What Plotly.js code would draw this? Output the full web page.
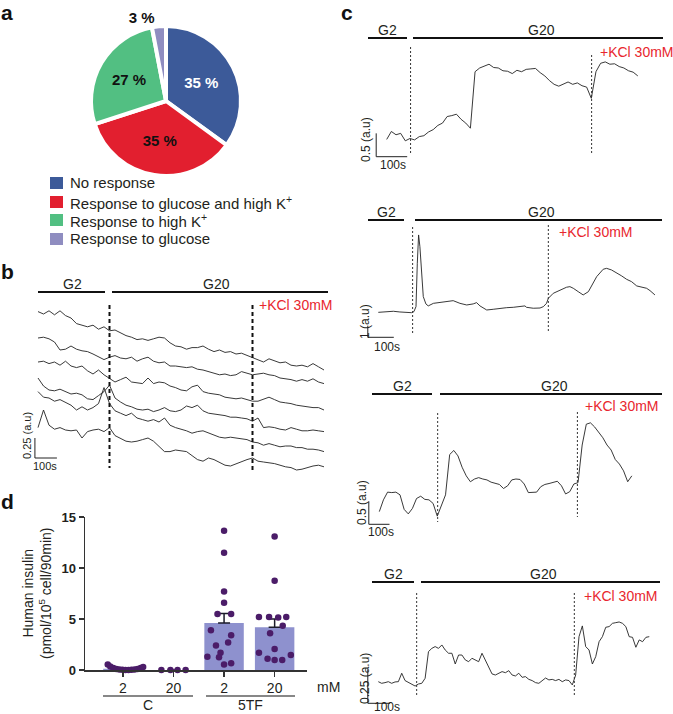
<!DOCTYPE html>
<html>
<head>
<meta charset="utf-8">
<script src="https://cdn.plot.ly/plotly-3.0.1.min.js"></script>
<style>
  html, body { margin: 0; padding: 0; background: #fff; }
  #fig { width: 673px; height: 714px; }
</style>
</head>
<body>
<div id="fig"></div>
<script>
// ---------- a: fraction of cells per response type (%) ----------
const pieLabels = ['No response', 'Response to glucose and high K<sup>+</sup>', 'Response to high K<sup>+</sup>', 'Response to glucose'];
const piePercents = [35, 35, 27, 3];
const pieColors = ['#3c5a99', '#e21f2f', '#52bf82', '#8f8dc0'];

// ---------- b: six cells, signal in a.u., one sample every 25 s ----------
const bStep = 25;
const bTraces = [
  [1.98,1.95,1.99,1.94,1.99,1.93,1.90,1.83,1.81,1.79,1.81,1.76,1.79,1.74,1.75,1.71,1.68,1.66,1.63,1.64,1.62,1.64,1.66,1.65,1.59,1.55,1.54,1.51,1.53,1.53,1.55,1.51,1.48,1.50,1.47,1.48,1.45,1.46,1.43,1.41,1.38,1.35,1.39,1.36,1.34,1.35,1.31,1.30,1.31,1.29,1.33,1.29,1.25],
  [1.65,1.66,1.64,1.60,1.50,1.51,1.55,1.51,1.49,1.48,1.45,1.41,1.38,1.41,1.43,1.40,1.39,1.41,1.36,1.39,1.41,1.36,1.34,1.35,1.30,1.30,1.29,1.28,1.29,1.26,1.25,1.23,1.21,1.19,1.20,1.18,1.19,1.23,1.21,1.19,1.20,1.21,1.19,1.18,1.15,1.14,1.13,1.11,1.13,1.11,1.14,1.10,1.08],
  [1.35,1.36,1.33,1.35,1.31,1.36,1.30,1.28,1.30,1.24,1.20,1.25,1.19,1.14,1.10,1.13,1.16,1.10,1.09,1.08,1.15,1.08,1.10,1.09,1.05,1.03,1.00,0.99,1.04,1.06,0.98,0.96,0.95,0.94,0.91,0.90,0.89,0.90,0.88,0.86,0.86,0.89,0.91,0.88,0.85,0.84,0.83,0.81,0.80,0.79,0.78,0.78,0.75],
  [1.15,1.05,1.00,0.99,1.01,0.98,0.95,0.96,0.94,0.89,0.88,0.93,0.98,1.06,0.90,0.85,0.81,0.79,0.76,0.75,0.76,0.73,0.75,0.78,0.74,0.73,0.75,0.80,0.78,0.81,0.74,0.71,0.70,0.69,0.68,0.66,0.66,0.65,0.64,0.61,0.65,0.53,0.54,0.53,0.51,0.50,0.53,0.51,0.49,0.49,0.50,0.49,0.48],
  [0.98,0.91,0.90,0.86,0.88,0.85,0.81,0.75,0.79,0.75,0.78,0.83,1.03,0.83,0.74,0.71,0.68,0.71,0.65,0.63,0.61,0.63,0.60,0.65,0.56,0.53,0.51,0.49,0.46,0.48,0.49,0.46,0.43,0.41,0.40,0.41,0.40,0.39,0.38,0.35,0.34,0.31,0.33,0.31,0.29,0.30,0.30,0.28,0.28,0.26,0.26,0.25,0.23],
  [0.53,0.75,0.56,0.51,0.53,0.50,0.49,0.50,0.40,0.48,0.50,0.51,0.48,0.53,0.43,0.40,0.36,0.35,0.36,0.38,0.40,0.36,0.30,0.23,0.23,0.25,0.24,0.23,0.18,0.13,0.11,0.15,0.13,0.10,0.06,0.05,0.08,0.10,0.13,0.15,0.11,0.10,0.09,0.08,0.06,0.04,0.03,0.00,0.01,0.03,0.05,0.06,0.04]
];
const bG20Time = 325;   // s, switch to 20 mM glucose
const bKclTime = 975;   // s, KCl added

// ---------- c: four single cells (a.u.) ----------
const c1Step = 15;
const c1Sig = [0.37,0.54,0.47,0.50,0.34,0.39,0.36,0.43,0.45,0.53,0.58,0.67,0.72,0.86,0.88,0.91,0.80,0.72,0.61,1.82,1.90,1.94,1.98,1.91,1.90,1.84,1.83,1.78,1.85,1.82,1.87,1.88,1.89,1.80,1.73,1.63,1.55,1.51,1.56,1.60,1.55,1.58,1.52,1.49,1.25,1.82,2.00,2.03,1.98,1.99,1.93,1.90,1.84,1.81,1.73];
const c2Time = [0,32,58,83,109,128,137,145,150,155,160,167,173,183,192,212,237,263,288,314,340,365,378,391,417,442,468,494,519,545,564,570,596,622,635,647,654,673,699,724,737,750,769,788,808,827,840,865,878,897,917,936,955,974,994,1013,1032,1045,1064];
const c2Sig = [2.14,2.20,2.23,2.17,2.14,2.11,2.20,2.63,6.34,8.77,7.77,4.91,3.49,2.86,2.69,2.91,2.97,3.06,3.14,2.91,2.77,2.86,2.97,2.69,2.34,2.40,2.49,2.54,2.57,2.63,2.69,2.57,2.49,2.51,2.63,2.91,3.34,3.77,4.06,4.29,4.34,4.20,3.91,3.63,3.91,4.63,5.20,5.83,5.91,5.77,5.54,5.26,4.97,4.77,4.40,4.29,4.20,4.00,3.63];
const c3Step = 20;
const c3Sig = [0.28,0.54,0.71,0.70,0.71,0.65,0.33,0.23,0.35,0.57,0.62,0.55,0.54,0.46,0.18,0.42,0.65,1.54,1.63,1.51,1.26,1.07,0.94,1.00,1.03,1.00,0.98,0.93,0.91,0.88,0.79,0.85,0.98,1.00,0.99,0.89,0.70,0.70,0.71,0.83,0.88,0.90,0.92,0.95,0.85,0.67,0.72,0.89,0.92,1.75,2.21,2.24,2.15,2.02,1.91,1.75,1.64,1.43,1.33,1.18,0.94,1.07];
const c4Step = 15;
const c4Sig = [0.159,0.147,0.152,0.159,0.147,0.157,0.159,0.221,0.167,0.154,0.145,0.127,0.142,0.147,0.184,0.380,0.404,0.417,0.404,0.429,0.392,0.368,0.368,0.289,0.355,0.355,0.319,0.306,0.331,0.319,0.306,0.368,0.314,0.257,0.216,0.208,0.221,0.233,0.225,0.240,0.208,0.201,0.221,0.191,0.196,0.176,0.167,0.152,0.147,0.167,0.186,0.172,0.176,0.167,0.176,0.159,0.172,0.167,0.135,0.208,0.490,0.569,0.417,0.392,0.289,0.343,0.453,0.490,0.559,0.564,0.588,0.593,0.598,0.588,0.564,0.490,0.485,0.412,0.466,0.453,0.485,0.490];
const cG20Time = [77, 132, 282, 172];
const cKclTime = [661, 654, 957, 879];
const cScaleAU = [0.5, 1, 0.5, 0.25];
const cScaleLabels = ['0.5 (a.u)', '1 (a.u)', '0.5 (a.u)', '0.25 (a.u)'];

// ---------- d: insulin secretion ----------
const dCats = ['2', '20', '2', '20'];
const dGroups = ['C', '5TF'];
const dMeans = [0.13, 0, 4.6, 4.2];
const dSem = [0.05, 0, 0.95, 0.8];
const dDotsC2 = [0.55,0.35,0.2,0.1,0.05,0.02,0,0,0.02,0.05,0.1,0.2,0.3];
const dJitC2 = [-0.30,-0.25,-0.19,-0.13,-0.07,-0.01,0.05,0.11,0.17,0.23,0.29,0.35,0.40];
const dDotsC20 = [0,0,0,0];
const dJitC20 = [-0.24,-0.06,0.08,0.24];
const dDots5TF2 = [13.66,11.5,7.7,6.6,5.5,5.5,3.9,3.4,2.4,2.7,1.7,1.3,1.25,0.55,0.65];
const dJit5TF2 = [0,0,0,0,-0.13,0.14,-0.26,0.14,-0.16,0.08,-0.07,-0.33,-0.10,0,0.14];
const dDots5TF20 = [13.1,8.75,5.2,5.2,5.15,5.2,4.35,3.6,2.06,1.7,1.47,1.1,0.98,0.98];
const dJit5TF20 = [0,0,-0.31,-0.11,0.07,0.23,0.16,-0.09,0,-0.31,0.32,-0.14,0,0.15];

// ---------- helpers ----------
const W = 673, H = 714;
const px = x => x / W;
const py = y => 1 - y / H;
const FONT = 'Liberation Sans, Arial, sans-serif';
const INK = '#231f20';
const RED = '#e8262e';

function txt(x, y, text, extra) {
  return Object.assign({ xref: 'paper', yref: 'paper', x: px(x), y: py(y), text: text, showarrow: false,
    xanchor: 'center', yanchor: 'middle', font: { size: 14, color: INK, family: FONT } }, extra || {});
}
function seg(x0, y0, x1, y1, w) {
  return { type: 'line', xref: 'paper', yref: 'paper', x0: px(x0), y0: py(y0), x1: px(x1), y1: py(y1),
    line: { color: '#111', width: w || 2 } };
}
// trace panel axes: box in px, time origin px, px per s, value origin px, px per a.u.
function traceAxes(box, t0, ppS, v0, ppA) {
  return [
    { domain: [px(box.l), px(box.r)], range: [(box.l - t0) / ppS, (box.r - t0) / ppS], visible: false, fixedrange: true },
    { domain: [py(box.b), py(box.t)], range: [(v0 - box.b) / ppA, (v0 - box.t) / ppA], visible: false, fixedrange: true }
  ];
}
const times = (n, step) => Array.from({ length: n }, (_, i) => i * step);

const data = [];
const shapes = [];
const annotations = [];

// ---------- panel a ----------
data.push({
  type: 'pie', values: piePercents, labels: pieLabels, sort: false, direction: 'clockwise', rotation: 0,
  marker: { colors: pieColors, line: { color: '#fff', width: 4 } },
  texttemplate: '<b>%{value} %</b>', textposition: ['inside', 'inside', 'inside', 'outside'],
  insidetextorientation: 'horizontal',
  insidetextfont: { color: ['#fff', '#111', '#111', '#111'], size: 15, family: FONT },
  outsidetextfont: { color: '#111', size: 15, family: FONT },
  domain: { x: [px(91), px(241)], y: [py(176), py(26)] },
  hoverinfo: 'skip', showlegend: false
});
const legendRows = [183, 202, 220, 239];
pieLabels.forEach((lab, i) => {
  shapes.push({ type: 'rect', xref: 'paper', yref: 'paper', x0: px(50), x1: px(63),
    y0: py(legendRows[i] + 6), y1: py(legendRows[i] - 6), fillcolor: pieColors[i], line: { width: 0 } });
  annotations.push(txt(68, legendRows[i], lab, { xanchor: 'left', font: { size: 15, color: INK, family: FONT } }));
});

// ---------- panel b ----------
const axB = traceAxes({ l: 25, r: 340, t: 295, b: 478 }, 38, 0.22, 470, 80);
bTraces.forEach(sig => data.push({
  type: 'scatter', mode: 'lines', x: times(sig.length, bStep), y: sig, xaxis: 'x2', yaxis: 'y2',
  line: { color: '#222', width: 0.9 }, hoverinfo: 'skip', showlegend: false
}));
[bG20Time, bKclTime].forEach((t, i) => shapes.push({ type: 'line', xref: 'x2', yref: 'paper', x0: t, x1: t,
  y0: py(305), y1: py(i ? 470 : 468), line: { color: '#111', width: 2, dash: '4px,3px' } }));
shapes.push(seg(38, 292, 105, 292), seg(112, 292, 328, 292));
shapes.push({ type: 'line', xref: 'x2', yref: 'y2', x0: -14, x1: -14, y0: 0.15, y1: 0.40, line: { color: '#222', width: 1 } });
shapes.push({ type: 'line', xref: 'x2', yref: 'y2', x0: -14, x1: 86, y0: 0.15, y1: 0.15, line: { color: '#222', width: 1 } });
annotations.push(txt(72, 284, 'G2'), txt(216, 284, 'G20'),
  txt(257, 305, '+KCl 30mM', { xanchor: 'left', font: { size: 14, color: RED, family: FONT } }),
  txt(27, 436, '0.25 (a.u)', { textangle: -90, font: { size: 11, color: INK, family: FONT } }),
  txt(45, 466, '100s', { font: { size: 11, color: INK, family: FONT } }));

// ---------- panel c ----------
const cBoxes = [
  { l: 360, r: 668, t: 40, b: 166 }, { l: 360, r: 668, t: 222, b: 345 },
  { l: 360, r: 668, t: 400, b: 530 }, { l: 360, r: 668, t: 585, b: 712 }
];
const cAnchors = [[386.7, 0.31, 156.7, 46.7], [378.3, 0.26, 337.3, 11.67], [379.3, 0.207, 524.3, 45.3], [378.3, 0.223, 703.3, 136]];
const cTimes = [times(c1Sig.length, c1Step), c2Time, times(c3Sig.length, c3Step), times(c4Sig.length, c4Step)];
const cSigs = [c1Sig, c2Sig, c3Sig, c4Sig];
const cBars = [ // G2 bar, G20 bar, y of bars
  [368, 407, 413, 663, 38], [368, 404, 415, 662, 220], [372, 432, 440, 662, 394], [372, 414, 421, 660, 582]
];
const cDash = [[47, 155, 55, 155], [227, 335, 225, 332], [413, 522, 412, 517], [593, 696, 593, 697]];
const cKclText = [[598, 52], [557, 232], [583, 406], [582, 596]];
const cScaleText = [[366, 139, 393, 165], [365, 322, 387, 347], [362, 503, 381, 532], [365, 679, 387, 707]];
const cAxes = cBoxes.map((b, i) => traceAxes(b, ...cAnchors[i]));

cSigs.forEach((sig, i) => {
  const xa = 'x' + (i + 3), ya = 'y' + (i + 3);
  data.push({ type: 'scatter', mode: 'lines', x: cTimes[i], y: sig, xaxis: xa, yaxis: ya,
    line: { color: '#222', width: 0.9 }, hoverinfo: 'skip', showlegend: false });
  const sx = -10.5 / cAnchors[i][1];
  shapes.push({ type: 'line', xref: xa, yref: 'paper', x0: cG20Time[i], x1: cG20Time[i], y0: py(cDash[i][0]), y1: py(cDash[i][1]),
    line: { color: '#333', width: 1, dash: '2px,2px' } });
  shapes.push({ type: 'line', xref: xa, yref: 'paper', x0: cKclTime[i], x1: cKclTime[i], y0: py(cDash[i][2]), y1: py(cDash[i][3]),
    line: { color: '#333', width: 1, dash: '2px,2px' } });
  const bar = cBars[i];
  shapes.push(seg(bar[0], bar[4], bar[1], bar[4]), seg(bar[2], bar[4], bar[3], bar[4]));
  // scale bar: 100 s and cScaleAU[i] a.u., drawn in the panel's own units
  shapes.push({ type: 'line', xref: xa, yref: ya, x0: sx, x1: sx, y0: 0, y1: cScaleAU[i], line: { color: '#222', width: 1 } });
  shapes.push({ type: 'line', xref: xa, yref: ya, x0: sx, x1: sx + 100, y0: 0, y1: 0, line: { color: '#222', width: 1 } });
  annotations.push(
    txt((bar[0] + bar[1]) / 2, bar[4] - 8, 'G2'),
    txt((bar[2] + bar[3]) / 2 + 3, bar[4] - 8, 'G20'),
    txt(cKclText[i][0], cKclText[i][1], '+KCl 30mM', { xanchor: 'left', font: { size: 14, color: RED, family: FONT } }),
    txt(cScaleText[i][0], cScaleText[i][1], cScaleLabels[i], { textangle: -90, font: { size: 12, color: INK, family: FONT } }),
    txt(cScaleText[i][2], cScaleText[i][3], '100s', { font: { size: 12, color: INK, family: FONT } })
  );
});

// ---------- panel d ----------
data.push({
  type: 'bar', x: [0, 1, 2, 3], y: dMeans, width: 0.78, xaxis: 'x', yaxis: 'y',
  marker: { color: '#8e91ce', line: { width: 0 } },
  error_y: { type: 'data', symmetric: false, array: dSem, arrayminus: [0, 0, 0, 0], color: '#1b1b2a', thickness: 1.5, width: 6 },
  hoverinfo: 'skip', showlegend: false
});
[[dDotsC2, dJitC2, 0], [dDotsC20, dJitC20, 1], [dDots5TF2, dJit5TF2, 2], [dDots5TF20, dJit5TF20, 3]].forEach(([vals, jit, c]) => {
  data.push({ type: 'scatter', mode: 'markers', x: jit.map(j => c + j), y: vals, xaxis: 'x', yaxis: 'y',
    marker: { color: '#4b1c68', size: 6.5 }, cliponaxis: false, hoverinfo: 'skip', showlegend: false });
});
shapes.push(seg(103, 696, 193, 696, 1.2), seg(206, 696, 295, 696, 1.2));
annotations.push(
  txt(148, 705, dGroups[0]), txt(250, 705, dGroups[1]), txt(315, 687, 'mM', { xanchor: 'left' }),
  txt(37, 593, 'Human insulin<br>(pmol/10<sup>5</sup> cell/90min)', { textangle: -90 })
);

// panel letters
[['a', 7, 12], ['b', 7, 271], ['c', 347, 12], ['d', 7, 502]].forEach(([l, x, y]) =>
  annotations.push(txt(x, y, '<b>' + l + '</b>', { font: { size: 21, color: '#111', family: FONT } })));

const layout = {
  width: W, height: H, margin: { l: 0, r: 0, t: 0, b: 0, pad: 0 },
  paper_bgcolor: '#fff', plot_bgcolor: 'rgba(0,0,0,0)', showlegend: false,
  font: { family: FONT, color: INK },
  xaxis: { domain: [px(85), px(307)], range: [-0.75, 3.64], anchor: 'y', tickvals: [0, 1, 2, 3], ticktext: dCats,
    ticks: 'outside', ticklen: 5, tickwidth: 1.2, tickcolor: '#333', showline: true, linecolor: '#333', linewidth: 1.5,
    showgrid: false, zeroline: false, tickfont: { size: 14, color: INK }, fixedrange: true },
  yaxis: { domain: [py(670), py(517)], range: [0, 15], anchor: 'x', tickvals: [0, 5, 10, 15],
    ticks: 'outside', ticklen: 5, tickwidth: 1.2, tickcolor: '#333', showline: true, linecolor: '#333', linewidth: 1.5,
    showgrid: false, zeroline: false, tickfont: { size: 13, color: INK, weight: 'bold' }, fixedrange: true },
  xaxis2: Object.assign(axB[0], { anchor: 'y2' }), yaxis2: Object.assign(axB[1], { anchor: 'x2' }),
  shapes: shapes, annotations: annotations
};
cAxes.forEach((ax, i) => {
  layout['xaxis' + (i + 3)] = Object.assign(ax[0], { anchor: 'y' + (i + 3) });
  layout['yaxis' + (i + 3)] = Object.assign(ax[1], { anchor: 'x' + (i + 3) });
});

Plotly.newPlot('fig', data, layout, { staticPlot: true });
</script>
</body>
</html>
